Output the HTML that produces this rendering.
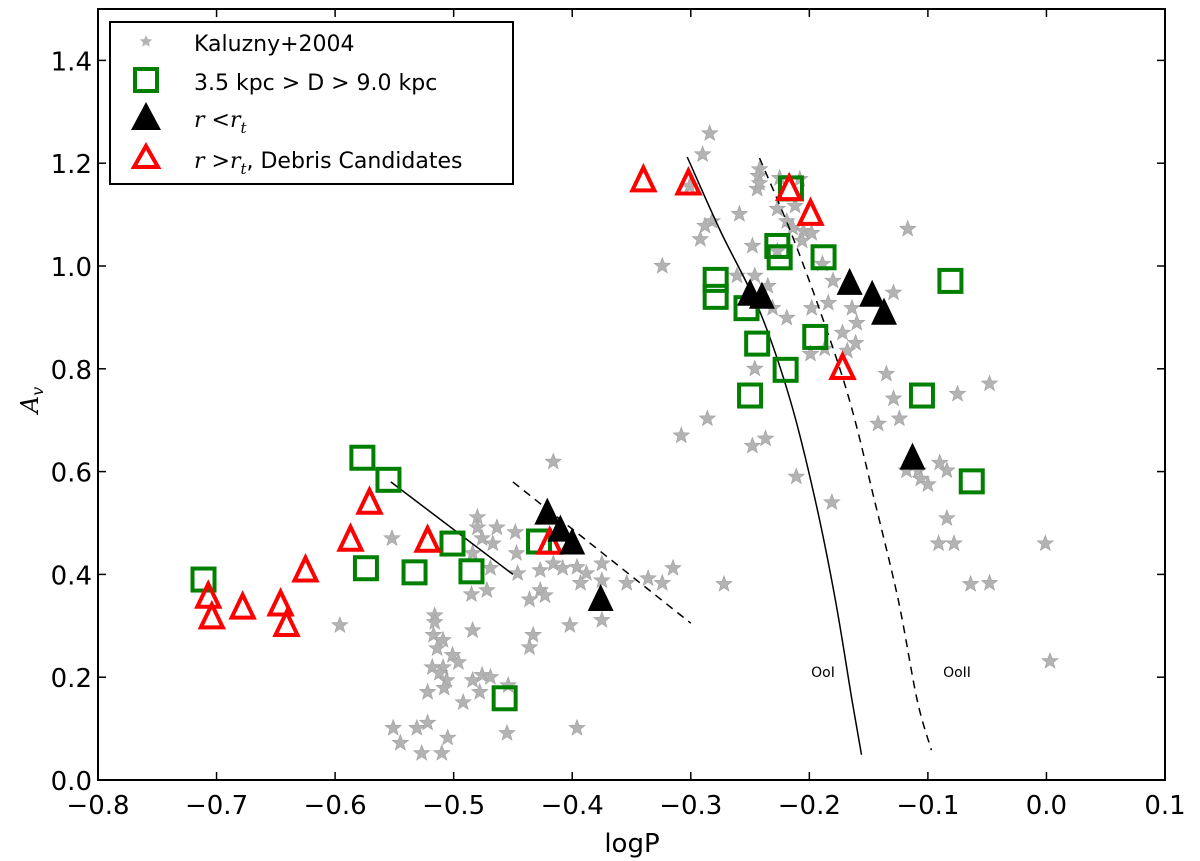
<!DOCTYPE html>
<html><head><meta charset="utf-8"><style>
body{margin:0;background:#fff}
svg{display:block;font-family:"DejaVu Sans","Liberation Sans",sans-serif}
</style></head><body>
<svg id="chart" width="1200" height="861" viewBox="0 0 1200 861" xmlns="http://www.w3.org/2000/svg">
<g id="marks"></g>
<g id="axes"></g>
</svg>
<script>
const xTicks=[-0.8,-0.7,-0.6,-0.5,-0.4,-0.3,-0.2,-0.1,0.0,0.1];
const yTicks=[0.0,0.2,0.4,0.6,0.8,1.0,1.2,1.4];
const starsX=[-0.416,-0.480,-0.480,-0.4635,-0.448,-0.476,-0.467,-0.552,-0.447,-0.484,-0.469,-0.446,-0.427,-0.416,-0.408,-0.396,-0.388,-0.375,-0.393,-0.375,-0.354,-0.336,-0.324,-0.315,-0.427,-0.423,-0.436,-0.472,-0.485,-0.596,-0.516,-0.516,-0.484,-0.402,-0.375,-0.433,-0.436,-0.517,-0.509,-0.514,-0.501,-0.496,-0.518,-0.509,-0.512,-0.506,-0.508,-0.484,-0.476,-0.469,-0.478,-0.522,-0.492,-0.454,-0.396,-0.455,-0.551,-0.531,-0.522,-0.505,-0.545,-0.527,-0.510,
-0.284,-0.290,-0.301,-0.242,-0.243,-0.244,-0.242,-0.225,-0.208,-0.227,-0.219,-0.212,-0.205,-0.198,-0.214,-0.259,-0.282,-0.288,-0.292,-0.248,-0.227,-0.206,-0.324,-0.189,-0.261,-0.246,-0.235,-0.180,-0.129,-0.117,-0.231,-0.219,-0.198,-0.184,-0.164,-0.160,-0.172,-0.161,-0.199,-0.187,-0.168,-0.246,-0.135,-0.129,-0.075,-0.048,-0.286,-0.237,-0.248,-0.308,-0.211,-0.181,-0.118,-0.108,-0.106,-0.100,-0.084,-0.090,-0.084,-0.091,-0.078,-0.064,-0.048,-0.001,0.003,-0.124,-0.142,-0.272];
const starsA=[0.619,0.511,0.491,0.491,0.482,0.470,0.460,0.470,0.441,0.441,0.412,0.402,0.408,0.421,0.412,0.414,0.402,0.421,0.383,0.388,0.383,0.392,0.383,0.412,0.369,0.359,0.351,0.369,0.361,0.301,0.320,0.307,0.291,0.301,0.311,0.282,0.258,0.282,0.272,0.256,0.243,0.229,0.219,0.219,0.208,0.194,0.179,0.194,0.204,0.200,0.171,0.171,0.151,0.184,0.101,0.091,0.101,0.101,0.111,0.082,0.072,0.052,0.052,
1.258,1.217,1.155,1.188,1.175,1.150,1.161,1.171,1.169,1.111,1.087,1.117,1.068,1.064,1.074,1.101,1.087,1.078,1.052,1.039,1.029,1.049,1.000,1.004,0.981,0.981,0.961,0.971,0.948,1.072,0.918,0.899,0.918,0.928,0.918,0.889,0.870,0.850,0.829,0.839,0.835,0.800,0.790,0.742,0.751,0.771,0.703,0.664,0.650,0.670,0.590,0.540,0.602,0.602,0.586,0.575,0.602,0.617,0.509,0.460,0.460,0.381,0.383,0.460,0.231,0.703,0.693,0.381];
const sqX=[-0.711,-0.577,-0.555,-0.574,-0.533,-0.501,-0.485,-0.457,-0.428,-0.279,-0.279,-0.253,-0.244,-0.250,-0.220,-0.227,-0.225,-0.2155,-0.188,-0.195,-0.081,-0.105,-0.063];
const sqA=[0.39,0.627,0.584,0.412,0.404,0.46,0.406,0.159,0.464,0.973,0.94,0.918,0.849,0.748,0.798,1.039,1.017,1.151,1.017,0.862,0.971,0.748,0.581];
const redX=[-0.707,-0.704,-0.678,-0.646,-0.641,-0.625,-0.587,-0.571,-0.522,-0.419,-0.34,-0.302,-0.217,-0.199,-0.172];
const redA=[0.355,0.315,0.334,0.34,0.30,0.406,0.466,0.538,0.464,0.46,1.165,1.159,1.148,1.10,0.80];
const blkX=[-0.421,-0.410,-0.40,-0.376,-0.250,-0.240,-0.166,-0.147,-0.137,-0.113];
const blkA=[0.518,0.485,0.46,0.35,0.944,0.938,0.965,0.942,0.907,0.625];
const oo1X=[-0.303,-0.275,-0.242,-0.216,-0.195,-0.178,-0.164,-0.156];
const oo1A=[1.212,1.068,0.913,0.738,0.544,0.350,0.155,0.049];
const oo2X=[-0.242,-0.216,-0.191,-0.166,-0.145,-0.125,-0.109,-0.097];
const oo2A=[1.210,1.068,0.913,0.738,0.544,0.350,0.155,0.058];
const seg1X=[-0.553,-0.450], seg1A=[0.58,0.40];
const seg2X=[-0.450,-0.300], seg2A=[0.58,0.305];

const X0=98,X1=1165,Y0=780,Y1=9;
const xs=v=>X0+(v+0.8)/0.9*(X1-X0);
const ys=a=>Y0-a/1.5*(Y0-Y1);
const NS='http://www.w3.org/2000/svg';
const marks=document.getElementById('marks'),axes=document.getElementById('axes');
function mk(tag,attrs,parent){const e=document.createElementNS(NS,tag);for(const k in attrs)e.setAttribute(k,attrs[k]);(parent||marks).appendChild(e);return e;}
function starPts(cx,cy,R){let p=[];for(let i=0;i<10;i++){const r=i%2?R*0.42:R;const t=-Math.PI/2+i*Math.PI/5;p.push((cx+r*Math.cos(t)).toFixed(1)+','+(cy+r*Math.sin(t)).toFixed(1));}return p.join(' ');}
function triPts(cx,cy,s){return `${cx},${cy-s*0.62} ${cx-s/2},${cy+s*0.42} ${cx+s/2},${cy+s*0.42}`;}
function lineD(X,A){return X.map((v,i)=>(i?'L':'M')+xs(v).toFixed(1)+','+ys(A[i]).toFixed(1)).join(' ');}
function smoothD(X,A){const P=X.map((v,i)=>[xs(v),ys(A[i])]);let d='M'+P[0][0].toFixed(1)+','+P[0][1].toFixed(1);
for(let i=0;i<P.length-1;i++){const p0=P[Math.max(i-1,0)],p1=P[i],p2=P[i+1],p3=P[Math.min(i+2,P.length-1)];
const c1=[p1[0]+(p2[0]-p0[0])/6,p1[1]+(p2[1]-p0[1])/6],c2=[p2[0]-(p3[0]-p1[0])/6,p2[1]-(p3[1]-p1[1])/6];
d+=` C${c1[0].toFixed(1)},${c1[1].toFixed(1)} ${c2[0].toFixed(1)},${c2[1].toFixed(1)} ${p2[0].toFixed(1)},${p2[1].toFixed(1)}`;}return d;}

starsX.forEach((v,i)=>{const e=mk('polygon',{points:starPts(xs(v),ys(starsA[i]),8.5),fill:'#b3b3b3',stroke:'#a0a0a0','stroke-width':0.6});

});
let l;
l=mk('path',{d:lineD(seg1X,seg1A),stroke:'#000','stroke-width':1.5,fill:'none'});


l=mk('path',{d:lineD(seg2X,seg2A),stroke:'#000','stroke-width':1.5,fill:'none','stroke-dasharray':'8,6'});


l=mk('path',{d:smoothD(oo1X,oo1A),stroke:'#000','stroke-width':1.5,fill:'none'});


l=mk('path',{d:smoothD(oo2X,oo2A),stroke:'#000','stroke-width':1.5,fill:'none','stroke-dasharray':'8,6'});


sqX.forEach((v,i)=>{const e=mk('rect',{x:xs(v)-11,y:ys(sqA[i])-11,width:22,height:22,fill:'none',stroke:'#007f00','stroke-width':4});

});
redX.forEach((v,i)=>{const e=mk('polygon',{points:triPts(xs(v),ys(redA[i]),22),fill:'none',stroke:'#ff0000','stroke-width':4,'stroke-linejoin':'miter'});

});
blkX.forEach((v,i)=>{const e=mk('polygon',{points:triPts(xs(v),ys(blkA[i]),26),fill:'#000'});

});

let f=mk('rect',{x:X0,y:Y1,width:X1-X0,height:Y0-Y1,fill:'none',stroke:'#000','stroke-width':2},axes);


xTicks.forEach(t=>{const x=xs(t);
mk('line',{x1:x,y1:Y0,x2:x,y2:Y0-8,stroke:'#000','stroke-width':1.5},axes);
mk('line',{x1:x,y1:Y1,x2:x,y2:Y1+8,stroke:'#000','stroke-width':1.5},axes);
const tx=mk('text',{x:x,y:Y0+34,'text-anchor':'middle','font-size':26},axes);
tx.textContent=(t<0?'\u2212':'')+Math.abs(t).toFixed(1);

});
yTicks.forEach(t=>{const y=ys(t);
mk('line',{x1:X0,y1:y,x2:X0+8,y2:y,stroke:'#000','stroke-width':1.5},axes);
mk('line',{x1:X1,y1:y,x2:X1-8,y2:y,stroke:'#000','stroke-width':1.5},axes);
const tx=mk('text',{x:X0-6,y:y+10,'text-anchor':'end','font-size':26},axes);
tx.textContent=t.toFixed(1);

});
</script>
<svg style="position:absolute;left:0;top:0" width="1200" height="861">
<text x="632" y="852" text-anchor="middle" font-size="26" font-family="DejaVu Sans, sans-serif">logP</text>
<text transform="translate(38,400) rotate(-90)" text-anchor="middle" font-size="24" font-style="italic" font-family="DejaVu Serif, serif">A<tspan font-size="16" dy="5">v</tspan></text>
<text x="823" y="677" text-anchor="middle" font-size="14" font-family="DejaVu Sans, sans-serif">OoI</text>
<text x="957" y="677" text-anchor="middle" font-size="14" font-family="DejaVu Sans, sans-serif">OoII</text>
<g>
<rect x="110" y="22" width="403" height="162" fill="#fff" stroke="#000" stroke-width="2"/>
<polygon points="146,35 147.8,39.1 152.2,39.5 148.9,42.4 149.8,46.7 146,44.4 142.2,46.7 143.1,42.4 139.8,39.5 144.2,39.1" fill="#b3b3b3"/>
<text x="194" y="51" font-size="22" font-family="DejaVu Sans, sans-serif">Kaluzny+2004</text>
<rect x="135" y="69" width="22" height="22" fill="none" stroke="#007f00" stroke-width="4"/>
<text x="194" y="90" font-size="22" font-family="DejaVu Sans, sans-serif">3.5 kpc &gt; D &gt; 9.0 kpc</text>
<polygon points="146,102 131,130 161,130" fill="#000"/>
<text x="194" y="127" font-size="22" font-style="italic" font-family="DejaVu Serif, serif">r &lt;r<tspan font-size="15" dy="6">t</tspan></text>
<polygon points="146,146 134,167 158,167" fill="none" stroke="#ff0000" stroke-width="4"/>
<text x="194" y="168" font-size="22" font-family="DejaVu Sans, sans-serif"><tspan font-style="italic" font-family="DejaVu Serif, serif">r &gt;r</tspan><tspan font-size="15" dy="6" font-style="italic" font-family="DejaVu Serif, serif">t</tspan><tspan dy="-6">, Debris Candidates</tspan></text>
</g>
</svg>
</body></html>
